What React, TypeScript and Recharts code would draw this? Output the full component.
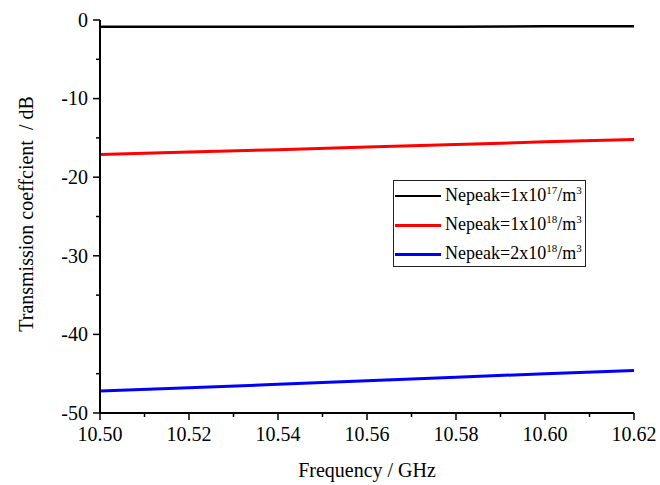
import { CartesianGrid, Line, LineChart, XAxis, YAxis } from "recharts";

const FREQ = [10.5, 10.52, 10.54, 10.56, 10.58, 10.6, 10.62];
const NE_1E17 = [-0.85, -0.85, -0.85, -0.85, -0.85, -0.8, -0.8];
const NE_1E18 = [-17.1, -16.8, -16.5, -16.15, -15.85, -15.5, -15.2];
const NE_2E18 = [-47.2, -46.8, -46.35, -45.9, -45.45, -45.0, -44.6];

const X_TICKS = [10.5, 10.51, 10.52, 10.53, 10.54, 10.55, 10.56, 10.57, 10.58, 10.59, 10.6, 10.61, 10.62];
const X_LABELS = ["10.50", "", "10.52", "", "10.54", "", "10.56", "", "10.58", "", "10.60", "", "10.62"];
const Y_TICKS = [-50, -45, -40, -35, -30, -25, -20, -15, -10, -5, 0];
const Y_LABELS = ["-50", "", "-40", "", "-30", "", "-20", "", "-10", "", "0"];

const SERIES = [
  { key: "a", color: "#000000", width: 2.5, exp: "17", mult: "1" },
  { key: "b", color: "#ff0000", width: 3, exp: "18", mult: "1" },
  { key: "c", color: "#0000ff", width: 3, exp: "18", mult: "2" },
];

const FONT = "'Liberation Serif', 'Times New Roman', serif";
const textStyle = { fontFamily: FONT, fontSize: 20 };

const data = FREQ.map((f, i) => ({ f, a: NE_1E17[i], b: NE_1E18[i], c: NE_2E18[i] }));

function XTick(props: any) {
  const { x, y, index } = props;
  const label = X_LABELS[index];
  const major = label !== "";
  return (
    <g>
      <line x1={x} x2={x} y1={y} y2={y + (major ? 7 : 4)} stroke="#000" strokeWidth={1.5} />
      {major && (
        <text x={x} y={y + 28} textAnchor="middle" style={textStyle} fill="#000">
          {label}
        </text>
      )}
    </g>
  );
}

function YTick(props: any) {
  const { x, y, index } = props;
  const label = Y_LABELS[index];
  const major = label !== "";
  return (
    <g>
      <line x1={x - (major ? 7 : 4)} x2={x} y1={y} y2={y} stroke="#000" strokeWidth={1.5} />
      {major && (
        <text x={x - 12} y={y} dy="0.34em" textAnchor="end" style={textStyle} fill="#000">
          {label}
        </text>
      )}
    </g>
  );
}

export default function App() {
  return (
    <div style={{ position: "absolute", left: 0, top: 0, width: 660, height: 485, background: "#fff", fontFamily: FONT }}>
      <LineChart width={660} height={485} data={data} margin={{ top: 20, right: 26, bottom: 0, left: 0 }}>
        <CartesianGrid stroke="none" />
        <XAxis
          dataKey="f"
          type="number"
          domain={[10.5, 10.62]}
          ticks={X_TICKS}
          interval={0}
          height={72}
          tickSize={0}
          tickMargin={0}
          tickLine={false}
          tick={<XTick />}
          axisLine={{ stroke: "#000", strokeWidth: 2 }}
          label={{
            value: "Frequency / GHz",
            content: () => (
              <text x={367} y={477} textAnchor="middle" style={textStyle} fill="#000">
                Frequency / GHz
              </text>
            ),
          }}
        />
        <YAxis
          type="number"
          domain={[-50, 0]}
          ticks={Y_TICKS}
          interval={0}
          width={100}
          tickSize={0}
          tickMargin={0}
          tickLine={false}
          tick={<YTick />}
          axisLine={{ stroke: "#000", strokeWidth: 2 }}
          label={{
            value: "Transmission coeffcient  / dB",
            content: () => (
              <text
                x={33}
                y={214}
                transform="rotate(-90 33 214)"
                textAnchor="middle"
                fill="#000"
                style={{ ...textStyle, whiteSpace: "pre" }}
              >
                Transmission coeffcient  / dB
              </text>
            ),
          }}
        />
        {SERIES.map((s) => (
          <Line
            key={s.key}
            type="linear"
            dataKey={s.key}
            stroke={s.color}
            strokeWidth={s.width}
            dot={false}
            activeDot={false}
            isAnimationActive={false}
          />
        ))}
      </LineChart>
      <div
        style={{
          position: "absolute",
          left: 393,
          top: 180,
          width: 191,
          height: 85,
          border: "1px solid #222",
          background: "#fff",
          fontFamily: FONT,
          fontSize: 18,
          color: "#000",
        }}
      >
        {SERIES.map((s, i) => (
          <div
            key={s.key}
            style={{ position: "absolute", left: 1, top: 15 + i * 29 - 12, height: 24, display: "flex", alignItems: "center" }}
          >
            <div style={{ width: 46, height: 0, borderTop: `${s.width}px solid ${s.color}` }} />
            <span style={{ marginLeft: 4, whiteSpace: "nowrap", lineHeight: "24px" }}>
              Nepeak={s.mult}x10
              <span style={{ fontSize: 11, position: "relative", top: -7 }}>{s.exp}</span>
              /m
              <span style={{ fontSize: 11, position: "relative", top: -7 }}>3</span>
            </span>
          </div>
        ))}
      </div>
    </div>
  );
}
